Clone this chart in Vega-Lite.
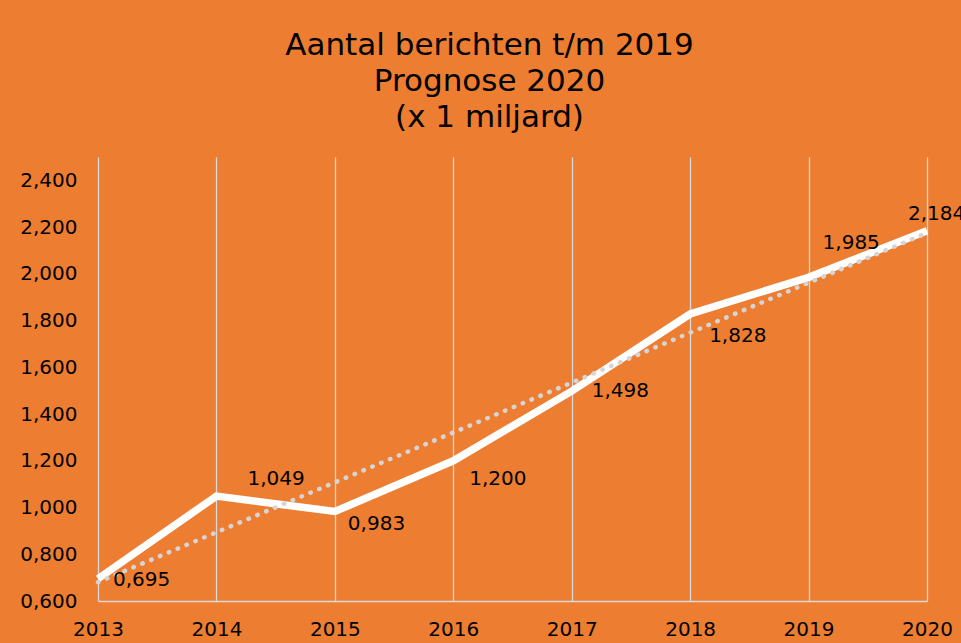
{
  "$schema": "https://vega.github.io/schema/vega-lite/v6.json",
  "width": 829,
  "height": 444,
  "autosize": {"type": "none"},
  "padding": {"left": 98, "top": 157, "right": 34, "bottom": 42},
  "background": "#ED7D31",
  "config": {
    "view": {"stroke": null},
    "font": "DejaVu Sans",
    "locale": {"number": {"decimal": ",", "thousands": ".", "grouping": [3], "currency": ["€", ""]}}
  },
  "title": {
    "text": ["Aantal berichten t/m 2019", "Prognose 2020", "(x 1 miljard)"],
    "font": "DejaVu Sans",
    "fontSize": 31,
    "fontWeight": "normal",
    "color": "#000000",
    "lineHeight": 36,
    "anchor": "middle",
    "dx": -23,
    "offset": 23
  },
  "data": {
    "values": [
      {"year": 2013, "value": 0.695},
      {"year": 2014, "value": 1.049},
      {"year": 2015, "value": 0.983},
      {"year": 2016, "value": 1.2},
      {"year": 2017, "value": 1.498},
      {"year": 2018, "value": 1.828},
      {"year": 2019, "value": 1.985},
      {"year": 2020, "value": 2.184}
    ]
  },
  "encoding": {
    "x": {
      "field": "year",
      "type": "quantitative",
      "scale": {"domain": [2013, 2020], "nice": false, "zero": false},
      "axis": {
        "values": [2013, 2014, 2015, 2016, 2017, 2018, 2019, 2020],
        "format": "d",
        "title": null,
        "grid": true,
        "gridColor": "#D9D9D9",
        "gridWidth": 1.3,
        "domain": true,
        "domainColor": "#D9D9D9",
        "domainWidth": 1.3,
        "ticks": false,
        "tickSize": 0,
        "labelFont": "DejaVu Sans",
        "labelFontSize": 20,
        "labelColor": "#000000",
        "labelPadding": 18,
        "labelFlush": false,
        "labelOverlap": false
      }
    },
    "y": {
      "field": "value",
      "type": "quantitative",
      "scale": {"domain": [0.6, 2.5], "nice": false, "zero": false},
      "axis": {
        "values": [0.6, 0.8, 1.0, 1.2, 1.4, 1.6, 1.8, 2.0, 2.2, 2.4],
        "format": ".3f",
        "title": null,
        "grid": false,
        "domain": false,
        "ticks": false,
        "tickSize": 0,
        "labelFont": "DejaVu Sans",
        "labelFontSize": 20,
        "labelColor": "#000000",
        "labelPadding": 21
      }
    }
  },
  "layer": [
    {
      "mark": {"type": "line", "color": "#FFFFFF", "strokeWidth": 7.5, "strokeCap": "butt", "strokeJoin": "miter"}
    },
    {
      "transform": [{"regression": "value", "on": "year"}],
      "mark": {"type": "line", "color": "#D5D5D5", "strokeWidth": 4.5, "strokeCap": "round", "strokeDash": [0.5, 9.1]}
    },
    {
      "transform": [{"filter": "datum.year === 2013"}],
      "mark": {"type": "text", "align": "left", "baseline": "middle", "fontSize": 20, "color": "#000000", "dx": 15, "dy": 1},
      "encoding": {"text": {"field": "value", "type": "quantitative", "format": ".3f"}}
    },
    {
      "transform": [{"filter": "datum.year === 2014"}],
      "mark": {"type": "text", "align": "left", "baseline": "middle", "fontSize": 20, "color": "#000000", "dx": 31, "dy": -17},
      "encoding": {"text": {"field": "value", "type": "quantitative", "format": ".3f"}}
    },
    {
      "transform": [{"filter": "datum.year === 2015"}],
      "mark": {"type": "text", "align": "left", "baseline": "middle", "fontSize": 20, "color": "#000000", "dx": 13, "dy": 13},
      "encoding": {"text": {"field": "value", "type": "quantitative", "format": ".3f"}}
    },
    {
      "transform": [{"filter": "datum.year === 2016"}],
      "mark": {"type": "text", "align": "left", "baseline": "middle", "fontSize": 20, "color": "#000000", "dx": 16, "dy": 18},
      "encoding": {"text": {"field": "value", "type": "quantitative", "format": ".3f"}}
    },
    {
      "transform": [{"filter": "datum.year === 2017"}],
      "mark": {"type": "text", "align": "left", "baseline": "middle", "fontSize": 20, "color": "#000000", "dx": 20, "dy": 0},
      "encoding": {"text": {"field": "value", "type": "quantitative", "format": ".3f"}}
    },
    {
      "transform": [{"filter": "datum.year === 2018"}],
      "mark": {"type": "text", "align": "left", "baseline": "middle", "fontSize": 20, "color": "#000000", "dx": 19, "dy": 22},
      "encoding": {"text": {"field": "value", "type": "quantitative", "format": ".3f"}}
    },
    {
      "transform": [{"filter": "datum.year === 2019"}],
      "mark": {"type": "text", "align": "left", "baseline": "middle", "fontSize": 20, "color": "#000000", "dx": 14, "dy": -34},
      "encoding": {"text": {"field": "value", "type": "quantitative", "format": ".3f"}}
    },
    {
      "transform": [{"filter": "datum.year === 2020"}],
      "mark": {"type": "text", "align": "left", "baseline": "middle", "fontSize": 20, "color": "#000000", "dx": -19, "dy": -17},
      "encoding": {"text": {"field": "value", "type": "quantitative", "format": ".3f"}}
    }
  ]
}
